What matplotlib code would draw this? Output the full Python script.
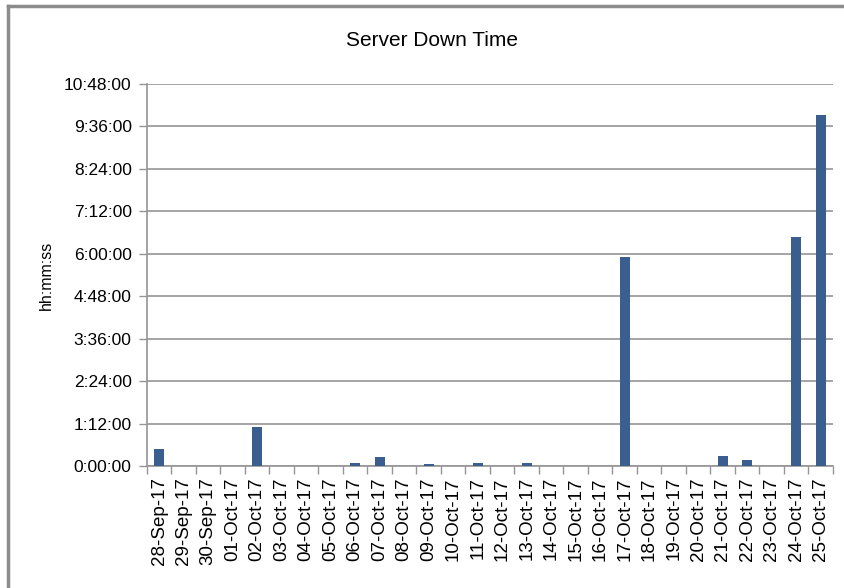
import numpy as np
import matplotlib.pyplot as plt
from matplotlib.ticker import FixedLocator, FuncFormatter
from matplotlib.lines import Line2D

plt.rcParams['font.family'] = ['Liberation Sans', 'DejaVu Sans']

days = ["28-Sep-17", "29-Sep-17", "30-Sep-17"] + \
       ["%02d-Oct-17" % d for d in range(1, 26)]
# down time in minutes
down_min = [28, 0, 0, 0, 67, 0, 0, 0, 5, 15, 0, 3, 0, 5, 0, 5,
            0, 0, 0, 354, 0, 0, 0, 17, 11, 0, 388, 596]
yticks_min = np.arange(0, 649, 72)


def hms(v, pos=None):
    v = int(round(v))
    return "%d:%02d:00" % (v // 60, v % 60)


fig = plt.figure(figsize=(8.45, 5.88), dpi=100)
ax = fig.add_axes([147/845, 1 - 466/588, (833 - 147)/845, (466 - 84)/588])

x = np.arange(len(days))
ax.bar(x, down_min, width=0.4, color='#3A5F8E', zorder=3)

ax.set_xlim(-0.5, len(days) - 0.5)
ax.set_ylim(0, 648)
ax.yaxis.set_major_locator(FixedLocator(yticks_min))
ax.yaxis.set_major_formatter(FuncFormatter(hms))
ax.grid(axis='y', color='#959595', linewidth=1.2, zorder=0)

ax.set_xticks(x)
ax.set_xticklabels(days, rotation=90, fontsize=13.5)
ax.tick_params(axis='x', length=0, pad=8)
ax.set_xticks(np.arange(-0.5, len(days)), minor=True)
ax.tick_params(axis='x', which='minor', length=6, color='#959595', width=1)
ax.tick_params(axis='y', length=6, color='#959595', width=1, labelsize=12.5, pad=5)

for s in ['top', 'right']:
    ax.spines[s].set_visible(False)
for s in ['left', 'bottom']:
    ax.spines[s].set_color('#959595')
    ax.spines[s].set_linewidth(1.2)

ax.set_ylabel("hh:mm:ss", fontsize=11.5)
ax.yaxis.set_label_coords((54 - 147) / 686, 0.5)
fig.text(432/845, 1 - 41/588, "Server Down Time", fontsize=15,
         ha='center', va='center')

# outer chart frame (top and left edges visible)
fig.add_artist(Line2D([8/845, 1], [1 - 6/588, 1 - 6/588], color='#8c8c8c', linewidth=2.5))
fig.add_artist(Line2D([8/845, 8/845], [0, 1 - 6/588], color='#8c8c8c', linewidth=2.5))

fig.savefig("out.png", dpi=100)
